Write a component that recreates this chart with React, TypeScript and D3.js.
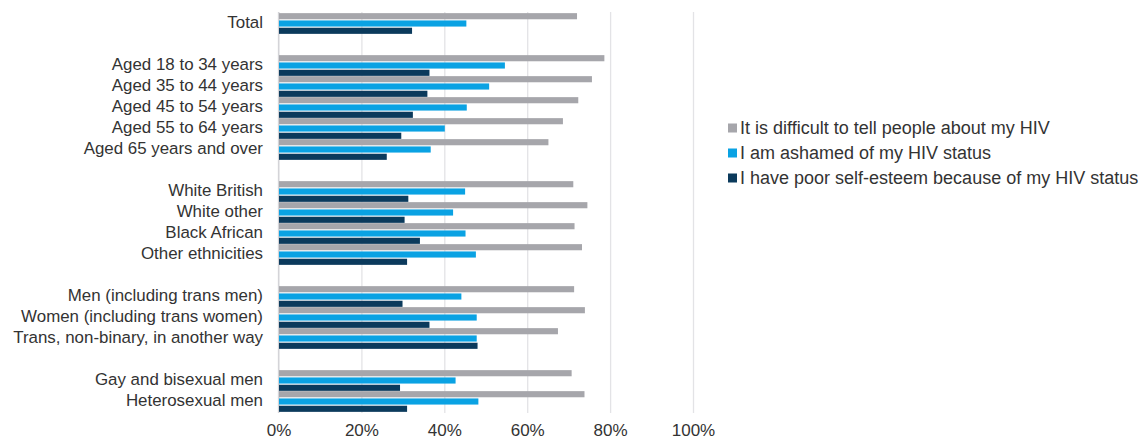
import React from "react";
import * as d3 from "d3";

// Row labels, top to bottom; empty strings are spacer rows between groups
const categories = [
  "Total",
  "",
  "Aged 18 to 34 years",
  "Aged 35 to 44 years",
  "Aged 45 to 54 years",
  "Aged 55 to 64 years",
  "Aged 65 years and over",
  "",
  "White British",
  "White other",
  "Black African",
  "Other ethnicities",
  "",
  "Men (including trans men)",
  "Women (including trans women)",
  "Trans, non-binary, in another way",
  "",
  "Gay and bisexual men",
  "Heterosexual men",
];

const seriesNames = [
  "It is difficult to tell people about my HIV",
  "I am ashamed of my HIV status",
  "I have poor self-esteem because of my HIV status",
];

// Percentages per row (null for spacer rows)
const difficultToTell = [
  71.9, null, 78.5, 75.5, 72.2, 68.5, 65.0, null, 71.0, 74.4, 71.3, 73.1, null, 71.2, 73.8, 67.3, null, 70.6, 73.7,
];
const ashamed = [
  45.2, null, 54.5, 50.7, 45.3, 40.0, 36.6, null, 44.9, 42.0, 45.0, 47.5, null, 44.0, 47.7, 47.7, null, 42.6, 48.1,
];
const poorSelfEsteem = [
  32.1, null, 36.3, 35.8, 32.3, 29.5, 26.0, null, 31.2, 30.3, 34.0, 30.9, null, 29.8, 36.3, 47.9, null, 29.2, 30.9,
];

const xTicks = [0, 20, 40, 60, 80, 100];

const colors = ["#a6a6ab", "#0aa2e3", "#0b3a5c"];

const W = 1145;
const H = 439;
const FONT = "'Liberation Sans', Arial, sans-serif";
const TEXT = "#333333";

export default function App() {
  const seriesValues = [difficultToTell, ashamed, poorSelfEsteem];
  const x = d3.scaleLinear().domain([0, 100]).range([279, 693.5]);
  const rowIds = categories.map((_, i) => String(i));
  const y = d3.scaleBand().domain(rowIds).range([13, 412]).padding(0);
  const inner = d3
    .scaleBand()
    .domain(seriesNames)
    .range([0, y.bandwidth()])
    .paddingInner(0.16)
    .paddingOuter(0.02);

  return (
    <svg
      width={W}
      height={H}
      style={{ position: "absolute", left: 0, top: 0, background: "#fff" }}
      fontFamily={FONT}
    >
      {/* vertical gridlines */}
      {xTicks.map((t) => (
        <line
          key={"g" + t}
          x1={x(t)}
          x2={x(t)}
          y1={12}
          y2={413}
          stroke="#e3e3e6"
          strokeWidth={1.3}
        />
      ))}
      {/* left axis line */}
      <line x1={x(0) - 0.5} x2={x(0) - 0.5} y1={12} y2={413} stroke="#d4d4d8" strokeWidth={1.3} />

      {/* bars */}
      {categories.map((c, i) =>
        seriesValues.map((vals, s) => {
          const v = vals[i];
          if (v == null) return null;
          return (
            <rect
              key={`b${i}-${s}`}
              x={x(0)}
              y={(y(String(i)) as number) + (inner(seriesNames[s]) as number)}
              width={x(v) - x(0)}
              height={inner.bandwidth()}
              fill={colors[s]}
            />
          );
        })
      )}

      {/* category labels */}
      {categories.map((c, i) =>
        c ? (
          <text
            key={"l" + i}
            x={263}
            y={(y(String(i)) as number) + y.bandwidth() / 2 - 1}
            textAnchor="end"
            dominantBaseline="central"
            fontSize={16.9}
            fill={TEXT}
          >
            {c}
          </text>
        ) : null
      )}

      {/* x tick labels */}
      {xTicks.map((t) => (
        <text
          key={"t" + t}
          x={x(t)}
          y={430}
          textAnchor="middle"
          dominantBaseline="central"
          fontSize={17}
          fill={TEXT}
        >
          {d3.format(".0%")(t / 100)}
        </text>
      ))}

      {/* legend */}
      {seriesNames.map((name, s) => (
        <g key={"lg" + s} transform={`translate(728, ${128 + s * 25})`}>
          <rect x={0} y={-4.5} width={9} height={9} fill={colors[s]} />
          <text x={12} y={0} dominantBaseline="central" fontSize={18} fill={TEXT}>
            {name}
          </text>
        </g>
      ))}
    </svg>
  );
}
